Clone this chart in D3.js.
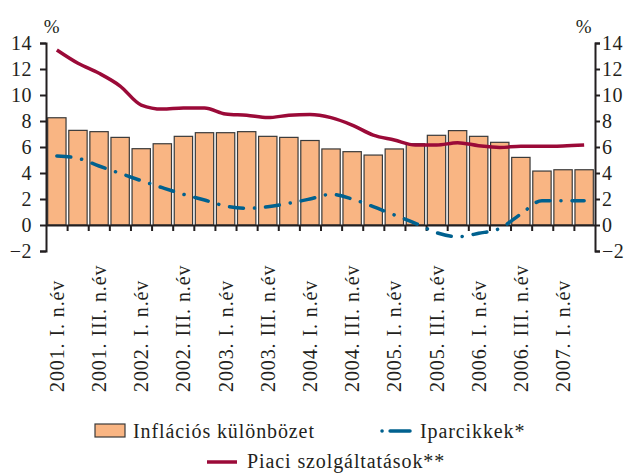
<!DOCTYPE html>
<html>
<head>
<meta charset="utf-8">
<script src="https://cdn.jsdelivr.net/npm/d3@7"></script>
<style>
  html, body { margin: 0; padding: 0; background: #fff; }
  svg text { font-family: "Liberation Serif", "Times New Roman", serif; fill: #231f20; letter-spacing: 0.9px; }
  .axis path, .axis line { stroke: #231f20; stroke-width: 2; }
</style>
</head>
<body>
<svg id="chart"></svg>
<script>
// Quarters 2001 Q1 .. 2007 Q2
const years = ['2001', '2002', '2003', '2004', '2005', '2006', '2007'];
const romans = ['I.', 'II.', 'III.', 'IV.'];
const quarters = [];
years.forEach(y => romans.forEach(r => quarters.push(`${y}. ${r} n.év`)));
quarters.length = 26;

// Inflációs különbözet (bars)
const inflDiff = [8.25, 7.28, 7.18, 6.74, 5.87, 6.25, 6.82, 7.1, 7.1, 7.18, 6.82, 6.74, 6.5,
                  5.85, 5.64, 5.38, 5.85, 6.25, 6.9, 7.26, 6.82, 6.36, 5.2, 4.15, 4.25, 4.25];
// Iparcikkek* (dash-dot line)
const iparcikkek = [5.31, 5.13, 4.54, 3.97, 3.41, 2.87, 2.36, 1.92, 1.46, 1.28, 1.41, 1.67, 2.0,
                    2.36, 2.0, 1.41, 0.77, 0.13, -0.59, -0.9, -0.64, -0.26, 0.85, 1.87, 1.87, 1.87];
// Piaci szolgáltatások** (solid line)
const piaci = [13.46, 12.44, 11.67, 10.69, 9.23, 8.92, 9.0, 9.0, 8.54, 8.44, 8.26, 8.44, 8.5,
               8.26, 7.69, 6.92, 6.54, 6.15, 6.15, 6.33, 6.1, 5.97, 6.05, 6.05, 6.08, 6.15];

const yTicks = [-2, 0, 2, 4, 6, 8, 10, 12, 14];

const colors = { bar: '#f9b583', barStroke: '#3a3a3a', blue: '#00618f', red: '#9b0a38' };

(function() {
    'use strict';

    const width = 627, height = 474;
    const left = 46, right = 595;

    const svg = d3.select('#chart').attr('width', width).attr('height', height);

    // Scales
    const x = d3.scaleBand()
        .domain(quarters)
        .range([left, right])
        .paddingInner(0.13)
        .paddingOuter(0.08);

    const xEdge = d3.scaleLinear()
        .domain([0, quarters.length])
        .range([left, right]);

    const y = d3.scaleLinear()
        .domain([-2, 14])
        .range([251, 43]);

    const cx = d => x(d) + x.bandwidth() / 2;

    // Bars
    svg.append('g')
        .selectAll('rect')
        .data(quarters)
        .enter()
        .append('rect')
        .attr('x', d => x(d))
        .attr('width', x.bandwidth())
        .attr('y', (d, i) => y(Math.max(0, inflDiff[i])))
        .attr('height', (d, i) => Math.abs(y(inflDiff[i]) - y(0)))
        .attr('fill', colors.bar)
        .attr('stroke', colors.barStroke)
        .attr('stroke-width', 1.2);

    // X axis at zero, ticks at bar boundaries
    svg.append('g')
        .attr('class', 'axis')
        .attr('transform', `translate(0, ${y(0)})`)
        .call(d3.axisBottom(xEdge)
            .tickValues(d3.range(1, quarters.length))
            .tickSize(6)
            .tickSizeOuter(0)
            .tickFormat(''));

    // Y axes
    const yLeft = svg.append('g')
        .attr('class', 'axis')
        .attr('transform', `translate(${left}, 0)`)
        .call(d3.axisLeft(y).tickValues(yTicks).tickSize(6).tickSizeOuter(6).tickPadding(8));

    const yRight = svg.append('g')
        .attr('class', 'axis')
        .attr('transform', `translate(${right}, 0)`)
        .call(d3.axisRight(y).tickValues(yTicks).tickSize(5).tickSizeOuter(5).tickPadding(2));

    [yLeft, yRight].forEach(a => a.selectAll('text')
        .style('font-size', '20px')
        .style('letter-spacing', '0.5px')
        .attr('fill', '#231f20'));

    // % labels
    svg.append('text').attr('x', 52).attr('y', 33).attr('text-anchor', 'middle')
        .style('font-size', '19px').text('%');
    svg.append('text').attr('x', 584).attr('y', 33).attr('text-anchor', 'middle')
        .style('font-size', '19px').text('%');

    // Lines
    const line = d3.line()
        .x((d, i) => cx(quarters[i]))
        .y(d => y(d))
        .curve(d3.curveMonotoneX);

    svg.append('path')
        .datum(iparcikkek)
        .attr('fill', 'none')
        .attr('stroke', colors.blue)
        .attr('stroke-width', 3.5)
        .attr('stroke-linecap', 'round')
        .attr('stroke-dasharray', '14,11,0.1,11')
        .attr('d', line);

    svg.append('path')
        .datum(piaci)
        .attr('fill', 'none')
        .attr('stroke', colors.red)
        .attr('stroke-width', 3.5)
        .attr('stroke-linejoin', 'round')
        .attr('d', line);

    // Category labels (every other quarter)
    svg.append('g')
        .selectAll('text')
        .data(quarters.filter((d, i) => i % 2 === 0))
        .enter()
        .append('text')
        .attr('transform', d => `translate(${cx(d)}, 392) rotate(-90)`)
        .attr('dy', '0.35em')
        .attr('text-anchor', 'start')
        .style('font-size', '20px')
        .text(d => d);

    // Legend
    const legend = svg.append('g').style('font-size', '20px');

    legend.append('rect')
        .attr('x', 95).attr('y', 424).attr('width', 30).attr('height', 13)
        .attr('fill', colors.bar).attr('stroke', colors.barStroke).attr('stroke-width', 1.2);
    legend.append('text').attr('x', 133).attr('y', 438).text('Inflációs különbözet');

    legend.append('line')
        .attr('x1', 382).attr('x2', 410).attr('y1', 431).attr('y2', 431)
        .attr('stroke', colors.blue).attr('stroke-width', 3.5)
        .attr('stroke-linecap', 'round').attr('stroke-dasharray', '0.1,8,20');
    legend.append('text').attr('x', 420).attr('y', 438).text('Iparcikkek*');

    legend.append('line')
        .attr('x1', 207).attr('x2', 237).attr('y1', 462).attr('y2', 462)
        .attr('stroke', colors.red).attr('stroke-width', 3.5);
    legend.append('text').attr('x', 247).attr('y', 468).text('Piaci szolgáltatások**');
})();
</script>
</body>
</html>
